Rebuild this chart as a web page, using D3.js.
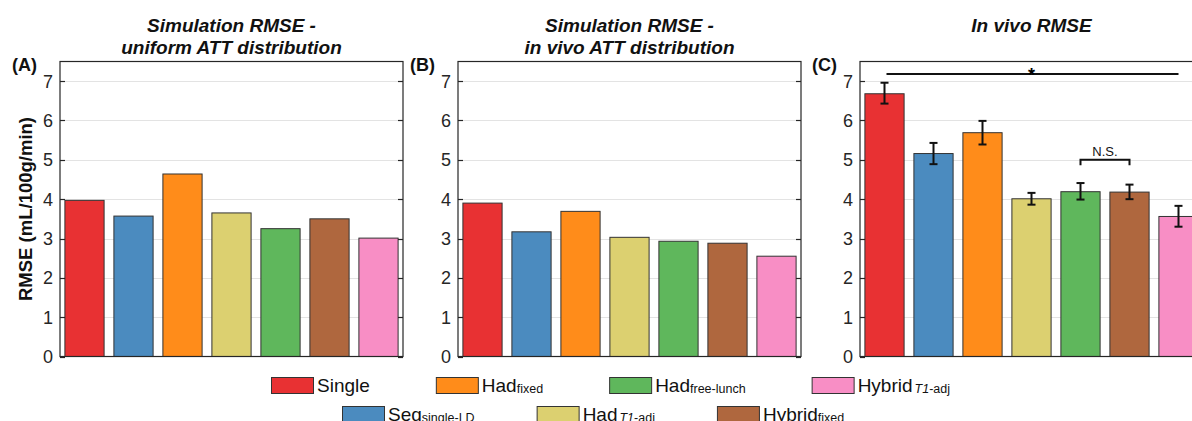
<!DOCTYPE html>
<html>
<head>
<meta charset="utf-8">
<script src="https://cdn.jsdelivr.net/npm/d3@7"></script>
<style>
  body { margin: 0; background: #fff; }
  svg { display: block; font-family: "Liberation Sans", Arial, Helvetica, sans-serif; }
</style>
</head>
<body>
<div id="corpo"></div>
<script>
// categories (bar order)
var categories = ["Single", "Seq", "HadFixed", "HadT1adj", "HadFreeLunch", "HybridFixed", "HybridT1adj"];
var legendMain = ["Single", "Seq", "Had", "Had", "Had", "Hybrid", "Hybrid"];
var legendSub = ["", "single-LD", "fixed", "T1-adj", "free-lunch", "fixed", "T1-adj"];
var colors = ["#e83133", "#4b8bbf", "#ff8c1a", "#dcd070", "#5fb75c", "#af673e", "#f88ec5"];

// values
var rmseUniform = [3.97, 3.57, 4.64, 3.65, 3.25, 3.50, 3.01];
var rmseSimVivo = [3.90, 3.17, 3.69, 3.03, 2.93, 2.88, 2.55];
var rmseInVivo = [6.68, 5.16, 5.69, 4.01, 4.19, 4.18, 3.56];
var errLow = [6.43, 4.89, 5.39, 3.86, 3.99, 4.00, 3.30];
var errHigh = [6.96, 5.43, 5.99, 4.16, 4.41, 4.37, 3.83];

var yTicks = [0, 1, 2, 3, 4, 5, 6, 7];
var panelTitles = [["Simulation RMSE -", "uniform ATT distribution"], ["Simulation RMSE -", "in vivo ATT distribution"], ["In vivo RMSE"]];
var panelLabels = ["(A)", "(B)", "(C)"];

/* cria svg */
var width = 1192, height = 421;
var svg = d3.select("#corpo").append("svg")
	.attr("width", width)
	.attr("height", height);

var panelLeft = [60, 458, 860];
var panelW = 343;
var plotTop = 61.5, plotBottom = 356.5;
var axisColor = "#262626";

var y = d3.scaleLinear().domain([0, 7.5]).range([plotBottom, plotTop]);
var x = d3.scaleBand().domain(categories).range([0, panelW]).paddingInner(0.2).paddingOuter(0.1);

var panelData = [rmseUniform, rmseSimVivo, rmseInVivo];

panelData.forEach(function(vals, p) {
	var g = svg.append("g").attr("transform", "translate(" + panelLeft[p] + ",0)");

	// grid
	g.selectAll(".grid").data(yTicks.filter(function(t){ return t > 0; }))
		.enter().append("line")
		.attr("x1", 0).attr("x2", panelW)
		.attr("y1", function(d){ return Math.round(y(d)) + 0.5; })
		.attr("y2", function(d){ return Math.round(y(d)) + 0.5; })
		.attr("stroke", "#e3e3e3").attr("stroke-width", 1);

	// bars
	g.selectAll(".bar").data(vals).enter().append("rect")
		.attr("x", function(d, i){ return x(categories[i]); })
		.attr("y", function(d){ return y(d); })
		.attr("width", x.bandwidth())
		.attr("height", function(d){ return plotBottom - y(d); })
		.attr("fill", function(d, i){ return colors[i]; })
		.attr("stroke", "#333").attr("stroke-width", 1);

	// box
	g.append("rect")
		.attr("x", 0).attr("y", plotTop)
		.attr("width", panelW).attr("height", plotBottom - plotTop)
		.attr("fill", "none").attr("stroke", axisColor).attr("stroke-width", 1.2);

	// ticks (inside, both sides)
	yTicks.forEach(function(t) {
		var yy = Math.round(y(t)) + 0.5;
		g.append("line").attr("x1", 0).attr("x2", 5).attr("y1", yy).attr("y2", yy)
			.attr("stroke", axisColor).attr("stroke-width", 1.2);
		g.append("line").attr("x1", panelW - 5).attr("x2", panelW).attr("y1", yy).attr("y2", yy)
			.attr("stroke", axisColor).attr("stroke-width", 1.2);
		g.append("text")
			.attr("x", -7).attr("y", y(t))
			.attr("dy", "0.36em")
			.attr("text-anchor", "end")
			.attr("font-size", 18)
			.attr("fill", axisColor)
			.text(t);
	});

	// titulo
	var title = panelTitles[p];
	title.forEach(function(line, k) {
		g.append("text")
			.attr("x", panelW / 2)
			.attr("y", 32 + k * 22)
			.attr("text-anchor", "middle")
			.attr("font-size", 19)
			.attr("font-weight", "bold")
			.attr("font-style", "italic")
			.attr("fill", "#111")
			.text(line);
	});

	// panel label
	g.append("text")
		.attr("x", -48).attr("y", 71)
		.attr("font-size", 18)
		.attr("font-weight", "bold")
		.attr("fill", "#111")
		.text(panelLabels[p]);

	// error bars + significance for in vivo panel
	if (p === 2) {
		vals.forEach(function(v, i) {
			var cx = x(categories[i]) + x.bandwidth() / 2;
			g.append("line").attr("x1", cx).attr("x2", cx)
				.attr("y1", y(errLow[i])).attr("y2", y(errHigh[i]))
				.attr("stroke", "#111").attr("stroke-width", 2);
			[errLow[i], errHigh[i]].forEach(function(e) {
				g.append("line").attr("x1", cx - 4).attr("x2", cx + 4)
					.attr("y1", y(e)).attr("y2", y(e))
					.attr("stroke", "#111").attr("stroke-width", 2);
			});
		});

		var c0 = x(categories[0]) + x.bandwidth() / 2;
		var c6 = x(categories[6]) + x.bandwidth() / 2;
		g.append("line").attr("x1", c0 + 2).attr("x2", c6)
			.attr("y1", y(7.18)).attr("y2", y(7.18))
			.attr("stroke", "#111").attr("stroke-width", 2);
		g.append("text")
			.attr("x", (c0 + c6) / 2).attr("y", y(7.18) + 7)
			.attr("text-anchor", "middle")
			.attr("font-size", 18).attr("font-weight", "bold")
			.text("*");

		// N.S. bracket
		var c4 = x(categories[4]) + x.bandwidth() / 2;
		var c5 = x(categories[5]) + x.bandwidth() / 2;
		g.append("path")
			.attr("d", "M" + c4 + "," + y(4.86) + "V" + y(5.0) + "H" + c5 + "V" + y(4.86))
			.attr("fill", "none").attr("stroke", "#111").attr("stroke-width", 2);
		g.append("text")
			.attr("x", (c4 + c5) / 2).attr("y", y(5.0) - 4)
			.attr("text-anchor", "middle")
			.attr("font-size", 13)
			.attr("fill", "#111")
			.text("N.S.");
	}
});

// y axis label
svg.append("text")
	.attr("transform", "translate(32," + ((plotTop + plotBottom) / 2) + ") rotate(-90)")
	.attr("text-anchor", "middle")
	.attr("font-size", 18.5)
	.attr("font-weight", "bold")
	.attr("fill", "#111")
	.text("RMSE (mL/100g/min)");

/*=== legenda ===*/
var legendRows = [[0, 2, 4, 6], [1, 3, 5]];
var legendStart = [271, 342];
var legendTop = [377, 406];
var legendGap = [66, 62];
var swatchW = 42, swatchH = 17;

legendRows.forEach(function(row, r) {
	var cx = legendStart[r];
	row.forEach(function(i) {
		var item = svg.append("g").attr("transform", "translate(" + cx + "," + legendTop[r] + ")");
		item.append("rect")
			.attr("x", 0.5).attr("y", 0.5)
			.attr("width", swatchW).attr("height", swatchH - 1)
			.attr("fill", colors[i]).attr("stroke", "#333").attr("stroke-width", 1);
		var txt = item.append("text")
			.attr("x", swatchW + 4).attr("y", 15)
			.attr("font-size", 19)
			.attr("fill", "#111");
		txt.append("tspan").text(legendMain[i]);
		var sub = legendSub[i];
		if (sub) {
			if (sub.indexOf("T1") === 0) {
				txt.append("tspan").attr("font-size", 12.5).attr("dy", 1).attr("dx", 2)
					.attr("font-style", "italic").text("T1");
				txt.append("tspan").attr("font-size", 12.5).text(sub.slice(2));
			} else {
				txt.append("tspan").attr("font-size", 12.5).attr("dy", 1).text(sub);
			}
		}
		var w = txt.node().getBBox().width;
		cx += swatchW + 4 + w + legendGap[r];
	});
});
</script>
</body>
</html>
